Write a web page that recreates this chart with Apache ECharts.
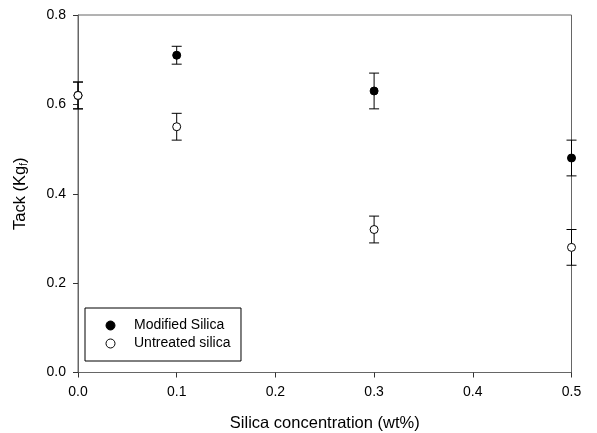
<!DOCTYPE html>
<html>
<head>
<meta charset="utf-8">
<script src="https://cdn.jsdelivr.net/npm/echarts@6/dist/echarts.min.js"></script>
<style>
html,body{margin:0;padding:0;background:#fff;}
#chart{width:597px;height:433px;}
</style>
</head>
<body>
<div id="chart"></div>
<script>
// Data
const concentrations = [0.0, 0.1, 0.3, 0.5];
const modifiedTack = [0.62, 0.71, 0.63, 0.48];
const modifiedErr = [0.03, 0.02, 0.04, 0.04];
const untreatedTack = [0.62, 0.55, 0.32, 0.28];
const untreatedErr = [0.03, 0.03, 0.03, 0.04];
const xTicks = [0.0, 0.1, 0.2, 0.3, 0.4, 0.5];
const yTicks = [0.0, 0.2, 0.4, 0.6, 0.8];

const FONT = 'Liberation Sans, Arial, sans-serif';

function pts(vals) { return concentrations.map((x, i) => [x, vals[i]]); }
function errPts(vals, errs) { return concentrations.map((x, i) => [x, vals[i] - errs[i], vals[i] + errs[i]]); }

function renderErr(params, api) {
  const x = api.value(0);
  const lo = api.coord([x, api.value(1)]);
  const hi = api.coord([x, api.value(2)]);
  const cap = 5;
  const st = { stroke: '#000', lineWidth: 1 };
  return {
    type: 'group',
    children: [
      { type: 'line', shape: { x1: lo[0], y1: lo[1], x2: hi[0], y2: hi[1] }, style: st },
      { type: 'line', shape: { x1: lo[0] - cap, y1: lo[1], x2: lo[0] + cap, y2: lo[1] }, style: st },
      { type: 'line', shape: { x1: hi[0] - cap, y1: hi[1], x2: hi[0] + cap, y2: hi[1] }, style: st }
    ]
  };
}

const chart = echarts.init(document.getElementById('chart'), null, { renderer: 'canvas' });
chart.setOption({
  animation: false,
  backgroundColor: '#fff',
  grid: { left: 78, right: 25.5, top: 15, bottom: 60.5, show: true, borderColor: '#666', borderWidth: 1,
          containLabel: false, outerBoundsMode: 'none' },
  xAxis: {
    type: 'value', min: xTicks[0], max: xTicks[xTicks.length - 1], interval: 0.1,
    name: 'Silica concentration (wt%)', nameLocation: 'middle', nameGap: 42,
    nameTextStyle: { fontFamily: FONT, fontSize: 16.5, color: '#000' },
    axisLine: { lineStyle: { color: '#666', width: 1 } },
    axisTick: { show: true, inside: false, length: 5, lineStyle: { color: '#333' } },
    axisLabel: { fontFamily: FONT, fontSize: 14, color: '#000', margin: 13, formatter: v => v.toFixed(1) },
    splitLine: { show: false }
  },
  yAxis: {
    type: 'value', min: yTicks[0], max: yTicks[yTicks.length - 1], interval: 0.2,
    name: '{n|Tack (Kg}{s|f}{n|)}', nameLocation: 'middle', nameGap: 49, nameRotate: 90,
    nameTextStyle: {
      fontFamily: FONT, color: '#000',
      rich: {
        n: { fontFamily: FONT, fontSize: 16.5, color: '#000' },
        s: { fontFamily: FONT, fontSize: 10, color: '#000', verticalAlign: 'bottom', padding: [8, 0, 0, 0] }
      }
    },
    axisLine: { show: true, lineStyle: { color: '#666', width: 1 } },
    axisTick: { show: true, inside: false, length: 5, lineStyle: { color: '#333' } },
    axisLabel: { fontFamily: FONT, fontSize: 14, color: '#000', margin: 12, formatter: v => v.toFixed(1) },
    splitLine: { show: false }
  },
  legend: {
    orient: 'vertical', left: 85, top: 308,
    padding: [10.5, 10.5, 10.5, 20.5],
    borderColor: '#000', borderWidth: 1, backgroundColor: '#fff',
    itemWidth: 9, itemHeight: 9, itemGap: 4,
    textStyle: { fontFamily: FONT, fontSize: 14, color: '#000', padding: [0, 0, 0, 14] },
    data: [
      { name: 'Modified Silica', icon: 'circle', itemStyle: { color: '#000', borderColor: '#000', borderWidth: 1 } },
      { name: 'Untreated silica', icon: 'circle', itemStyle: { color: '#fff', borderColor: '#000', borderWidth: 1 } }
    ]
  },
  series: [
    { name: 'Modified err', type: 'custom', renderItem: renderErr, data: errPts(modifiedTack, modifiedErr), z: 3, silent: true },
    { name: 'Untreated err', type: 'custom', renderItem: renderErr, data: errPts(untreatedTack, untreatedErr), z: 3, silent: true },
    { name: 'Modified Silica', type: 'scatter', data: pts(modifiedTack), symbol: 'circle', symbolSize: 8,
      itemStyle: { color: '#000', borderColor: '#000', borderWidth: 1, opacity: 1 }, z: 4 },
    { name: 'Untreated silica', type: 'scatter', data: pts(untreatedTack), symbol: 'circle', symbolSize: 8,
      itemStyle: { color: '#fff', borderColor: '#000', borderWidth: 1, opacity: 1 }, z: 5 }
  ]
});
</script>
</body>
</html>
